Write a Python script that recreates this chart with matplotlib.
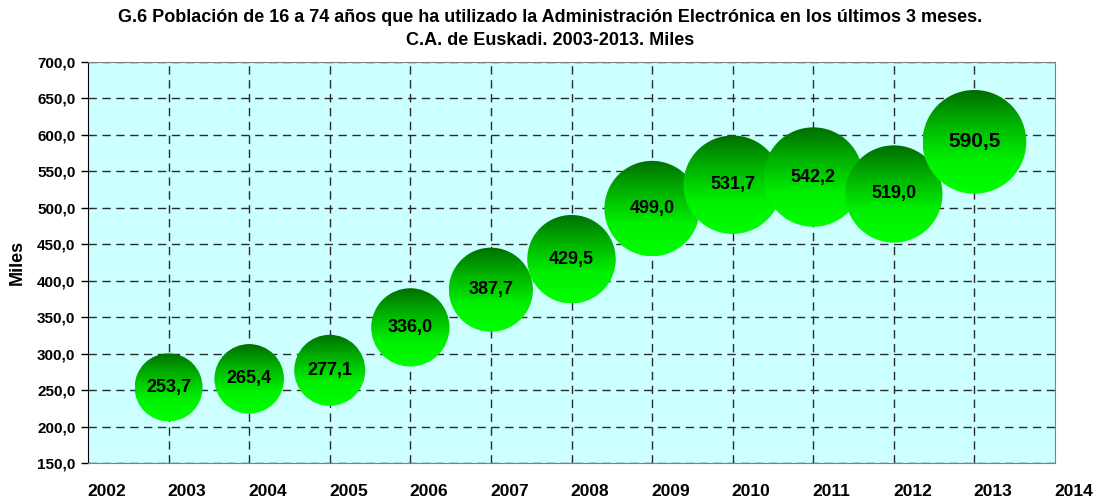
import matplotlib
matplotlib.use("Agg")
import matplotlib.pyplot as plt
import matplotlib.patches as patches
from matplotlib.colors import LinearSegmentedColormap
import numpy as np

# data
years = [2003, 2004, 2005, 2006, 2007, 2008, 2009, 2010, 2011, 2012, 2013]
values = [253.7, 265.4, 277.1, 336.0, 387.7, 429.5, 499.0, 531.7, 542.2, 519.0, 590.5]
year_labels = list(range(2002, 2015))
y_ticks = np.arange(150, 701, 50)

title = ("G.6 Población de 16 a 74 años que ha utilizado la Administración Electrónica en los últimos 3 meses.\n"
         "C.A. de Euskadi. 2003-2013. Miles")

plt.rcParams['font.family'] = ['Liberation Sans', 'DejaVu Sans']

fig = plt.figure(figsize=(11.01, 4.99), dpi=100)
ax = fig.add_axes([88 / 1101, 36 / 499, 967 / 1101, 401 / 499])
ax.set_facecolor('#CCFFFF')
ax.set_xlim(2002, 2014)
ax.set_ylim(150, 700)

# grid
ax.set_xticks(years)
ax.set_xticklabels([])
ax.set_yticks(y_ticks)
ax.set_yticklabels([f"{v:.1f}".replace('.', ',') for v in y_ticks],
                   fontsize=11, fontweight='bold')
ax.grid(True, color='#2a2a2a', linestyle=(0, (6, 4)), linewidth=1.0, zorder=0)
ax.set_axisbelow(True)
ax.tick_params(axis='x', length=0)
ax.tick_params(axis='y', length=5, width=1, direction='out', pad=4)
for side in ['top', 'right']:
    ax.spines[side].set_color('#808080')
ax.spines['left'].set_color('black')
ax.spines['bottom'].set_color('#808080')

# year labels (offset to the right like the original)
for yr in year_labels:
    ax.text(yr + 0.23, -0.07, str(yr), transform=ax.get_xaxis_transform(),
            ha='center', va='center', fontsize=12.5, fontweight='bold', clip_on=False)

ax.set_ylabel("Miles", fontsize=13, fontweight='bold', labelpad=8)
fig.text(0.5, 1 - 9 / 499, title, ha='center', va='top', fontsize=13,
         fontweight='bold', linespacing=1.45)

# bubbles: area proportional to value, diameter in pixels
fig.canvas.draw()
px_per_x = ax.transData.transform((2003, 0))[0] - ax.transData.transform((2002, 0))[0]
px_per_y = (ax.transData.transform((0, 200))[1] - ax.transData.transform((0, 150))[1]) / 50.0
ref_d = 68.0 / np.sqrt(253.7)

cmap = LinearSegmentedColormap.from_list('g', ['#006E00', '#00B400', '#00F000', '#00FF00'])
grad = np.linspace(0, 1, 256).reshape(-1, 1)

for i, (x, v) in enumerate(zip(years, values)):
    d = ref_d * np.sqrt(v)
    w = d / px_per_x
    h = d / px_per_y
    circ = patches.Ellipse((x, v), w, h, facecolor='none', edgecolor='none', zorder=3)
    ax.add_patch(circ)
    im = ax.imshow(grad, cmap=cmap, aspect='auto', origin='upper',
                   extent=(x - w / 2, x + w / 2, v - h / 2, v + h / 2),
                   zorder=3, interpolation='bilinear')
    im.set_clip_path(circ)
    fs = 15 if i == len(values) - 1 else 13
    ax.text(x, v, f"{v:.1f}".replace('.', ','), ha='center', va='center',
            fontsize=fs, fontweight='bold', color='black', zorder=5)

ax.set_xlim(2002, 2014)
ax.set_ylim(150, 700)

fig.savefig("out.png", dpi=100)
